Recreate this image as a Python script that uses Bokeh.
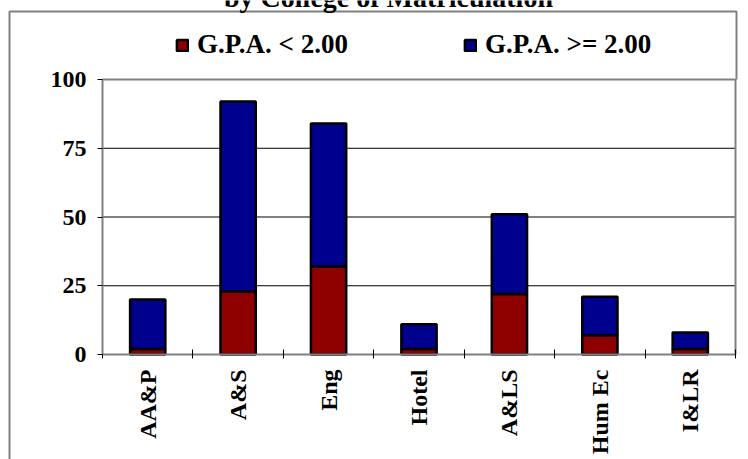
import numpy as np
from bokeh.plotting import figure
from bokeh.models import (ColumnDataSource, Range1d, FixedTicker, Legend, LegendItem, Label)
from bokeh.embed import file_html
from bokeh.resources import INLINE

# ---- data ----
title_text = "by College of Matriculation"
colleges = ["AA&P", "A&S", "Eng", "Hotel", "A&LS", "Hum Ec", "I&LR"]
gpa_low = [2, 23, 32, 2, 22, 7, 2]          # G.P.A. < 2.00
gpa_high = [18, 69, 52, 9, 29, 14, 6]       # G.P.A. >= 2.00
series_names = ["G.P.A. < 2.00", "G.P.A. >= 2.00"]
y_ticks = [0, 25, 50, 75, 100]

# ---- layout (pixels in the picture) ----
W, H = 748, 459
PL, PR, PT, PB = 102, 735, 79, 354       # plot-area edges
FONT = "Liberation Serif"
RED, BLUE, GRAY = "#8E0000", "#00008E", "#808080"

n = len(colleges)
x_idx = list(range(n))
xa0, xa1 = -0.5, n - 0.5
ya0, ya1 = y_ticks[0], y_ticks[-1]
pxu = (PR - PL) / (xa1 - xa0)
pyu = (PB - PT) / (ya1 - ya0)
x_start = xa0 - PL / pxu
y_end = ya1 + PT / pyu
def dx(px):
    return x_start + px / pxu
def dy(py):
    return y_end - py / pyu

src = ColumnDataSource(dict(x=x_idx, low=gpa_low, high=gpa_high))

p = figure(width=W, height=H, output_backend="svg", toolbar_location=None,
           x_range=Range1d(x_start, x_start + W / pxu),
           y_range=Range1d(y_end - H / pyu, y_end),
           min_border=0, min_border_left=0, min_border_right=0,
           min_border_top=0, min_border_bottom=0,
           background_fill_color="white", border_fill_color="white")
p.outline_line_color = None
p.grid.visible = False

# gridlines (25, 50, 75) and plot-area border
grid_vals = [t for t in y_ticks if ya0 < t < ya1]
p.segment(x0=[xa0] * len(grid_vals), x1=[xa1] * len(grid_vals), y0=grid_vals, y1=grid_vals,
          line_color="black", line_width=1)
p.line(x=[xa0, xa1, xa1], y=[ya1, ya1, ya0], line_color=GRAY, line_width=2)

# outer chart-area border
p.line(x=[dx(736), dx(736), dx(9), dx(9)], y=[dy(79), dy(11), dy(11), dy(480)],
       line_color=GRAY, line_width=2)

rs = p.vbar_stack(["low", "high"], x="x", width=0.39, source=src,
                  fill_color=[RED, BLUE], line_color="black", line_width=2.5)

# axes
xa = p.xaxis[0]
xa.fixed_location = ya0
xa.bounds = (xa0, xa1)
xa.ticker = FixedTicker(ticks=x_idx, minor_ticks=[i - 0.5 for i in range(n + 1)])
xa.major_label_overrides = {i: c for i, c in zip(x_idx, colleges)}
xa.major_tick_in = 0
xa.major_tick_out = 0
xa.minor_tick_in = 5
xa.minor_tick_out = 4
xa.minor_tick_line_color = "black"
xa.minor_tick_line_width = 1
xa.axis_line_color = GRAY
xa.axis_line_width = 2
xa.major_label_orientation = np.pi / 2
xa.major_label_text_font = FONT
xa.major_label_text_font_style = "bold"
xa.major_label_text_font_size = "24px"
xa.major_label_text_color = "black"
xa.major_label_standoff = 11

ya = p.yaxis[0]
ya.fixed_location = xa0
ya.bounds = (ya0, ya1)
ya.ticker = FixedTicker(ticks=y_ticks)
ya.major_tick_in = 0
ya.major_tick_out = 5
ya.major_tick_line_color = "black"
ya.minor_tick_line_color = None
ya.axis_line_color = GRAY
ya.axis_line_width = 2
ya.major_label_text_font = FONT
ya.major_label_text_font_style = "bold"
ya.major_label_text_font_size = "24px"
ya.major_label_text_color = "black"
ya.major_label_standoff = 11

# legend
legend = Legend(items=[LegendItem(label=series_names[i], renderers=[rs[i]]) for i in range(2)],
                orientation="horizontal", location=(175, H - 60), padding=0, margin=0,
                spacing=106, glyph_width=14, glyph_height=14, label_standoff=8,
                label_width=160, label_text_font=FONT, label_text_font_style="bold",
                label_text_font_size="27px", label_text_color="black",
                border_line_color=None, background_fill_alpha=0)
p.add_layout(legend, "center")

# title (cut off at the top as in the reference)
p.add_layout(Label(x=dx(388), y=dy(-3.5), text=title_text, text_align="center",
                   text_baseline="alphabetic", text_font=FONT, text_font_style="bold",
                   text_font_size="28px", text_color="black"))

open("out.html", "w").write(file_html(p, INLINE))
